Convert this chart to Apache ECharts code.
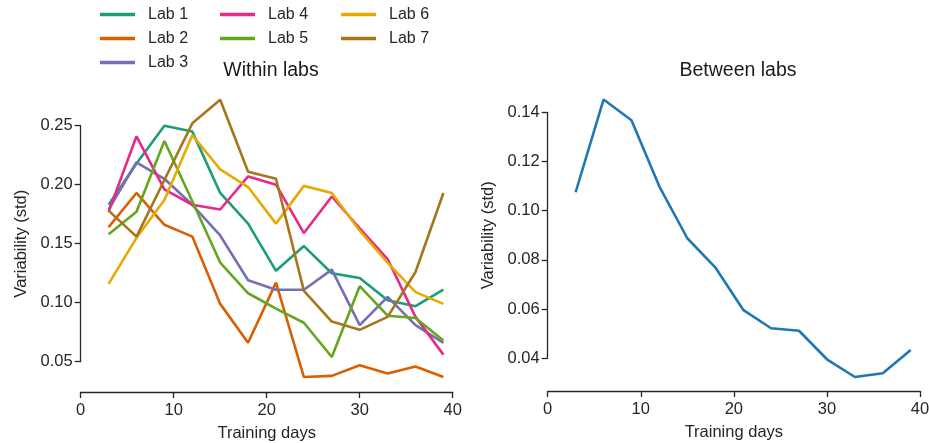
<!doctype html>
<html>
<head>
<meta charset="utf-8">
<script src="https://cdn.jsdelivr.net/npm/echarts@6/dist/echarts.min.js"></script>
<style>
  html, body { margin: 0; padding: 0; background: #fff; }
</style>
</head>
<body>
<div id="main" style="width: 929px; height: 443px;"></div>
<script type="text/javascript">
    // training days (x values)
    var days = [3, 6, 9, 12, 15, 18, 21, 24, 27, 30, 33, 36, 39];

    // within labs std per lab
    var lab1 = [0.183, 0.218, 0.250, 0.245, 0.193, 0.167, 0.127, 0.148, 0.125, 0.121, 0.102, 0.097, 0.111];
    var lab2 = [0.164, 0.193, 0.166, 0.156, 0.099, 0.066, 0.117, 0.037, 0.038, 0.047, 0.040, 0.046, 0.037];
    var lab3 = [0.179, 0.219, 0.205, 0.183, 0.157, 0.119, 0.111, 0.111, 0.128, 0.081, 0.105, 0.081, 0.066];
    var lab4 = [0.177, 0.241, 0.196, 0.183, 0.179, 0.207, 0.200, 0.159, 0.190, 0.163, 0.137, 0.088, 0.056];
    var lab5 = [0.158, 0.177, 0.237, 0.186, 0.134, 0.108, 0.095, 0.083, 0.054, 0.114, 0.089, 0.087, 0.068];
    var lab6 = [0.116, 0.155, 0.187, 0.242, 0.213, 0.198, 0.167, 0.199, 0.193, 0.161, 0.134, 0.109, 0.099];
    var lab7 = [0.178, 0.156, 0.204, 0.252, 0.272, 0.211, 0.205, 0.110, 0.084, 0.077, 0.088, 0.126, 0.193];

    // between labs std
    var between = [0.1075, 0.1452, 0.1368, 0.1098, 0.0888, 0.0770, 0.0597, 0.0522, 0.0512, 0.0396, 0.0324, 0.0339, 0.0434];

    var labNames = ['Lab 1', 'Lab 2', 'Lab 3', 'Lab 4', 'Lab 5', 'Lab 6', 'Lab 7'];
    var labData = [lab1, lab2, lab3, lab4, lab5, lab6, lab7];
    var labColors = ['#1b9e77', '#d95f02', '#7570b3', '#e7298a', '#66a61e', '#e6ab02', '#a6761d'];

    var yLeftTicks = { min: 0.05, max: 0.25, step: 0.05 };
    var yRightTicks = { min: 0.04, max: 0.14, step: 0.02 };

    var font = 'Liberation Sans, Arial, sans-serif';
    var axisColor = '#262626';

    function pairs(ys) {
        var out = [];
        for (var i = 0; i < days.length; i++) {
            out.push([days[i], ys[i]]);
        }
        return out;
    }

    function xAxisFor(idx, offset) {
        return {
            type: 'value', gridIndex: idx, min: 0, max: 40, interval: 10,
            offset: offset,
            name: 'Training days', nameLocation: 'middle', nameGap: 33,
            nameTextStyle: { fontFamily: font, fontSize: 16.5, color: axisColor },
            axisLine: { lineStyle: { color: axisColor, width: 1.3 } },
            axisTick: { length: 6, lineStyle: { color: axisColor, width: 1.3 } },
            axisLabel: { fontFamily: font, fontSize: 16.5, color: axisColor, margin: 10 },
            splitLine: { show: false }
        };
    }

    function yAxisFor(idx, t) {
        return {
            type: 'value', gridIndex: idx, min: t.min, max: t.max, interval: t.step,
            name: 'Variability (std)', nameLocation: 'middle', nameGap: 51,
            nameTextStyle: { fontFamily: font, fontSize: 16.5, color: axisColor },
            axisLine: { show: true, lineStyle: { color: axisColor, width: 1.3 } },
            axisTick: { show: true, length: 6, lineStyle: { color: axisColor, width: 1.3 } },
            axisLabel: {
                fontFamily: font, fontSize: 16.5, color: axisColor, margin: 8,
                formatter: function (v) { return v.toFixed(2); }
            },
            splitLine: { show: false }
        };
    }

    var series = [];
    for (var k = 0; k < labNames.length; k++) {
        series.push({
            name: labNames[k], type: 'line', xAxisIndex: 0, yAxisIndex: 0,
            data: pairs(labData[k]),
            symbol: 'none', clip: false,
            color: labColors[k],
            lineStyle: { width: 2.6, color: labColors[k] }
        });
    }
    series.push({
        name: 'Between', type: 'line', xAxisIndex: 1, yAxisIndex: 1,
        data: pairs(between),
        symbol: 'none', clip: false,
        color: '#1f77b4',
        lineStyle: { width: 2.6, color: '#1f77b4' }
    });

    function legendCol(left, names) {
        return {
            orient: 'vertical', left: left, top: 6.5, padding: 0,
            data: names, icon: 'rect', itemWidth: 35, itemHeight: 3.5, itemGap: 8,
            textStyle: { fontFamily: font, fontSize: 16, color: axisColor, padding: [0, 0, 0, 8] }
        };
    }

    var myChart = echarts.init(document.getElementById('main'), null, { renderer: 'canvas' });
    myChart.setOption({
        animation: false,
        backgroundColor: '#fff',
        title: [
            { text: 'Within labs', left: 266, top: 56, textAlign: 'center',
              textStyle: { fontFamily: font, fontSize: 19.5, fontWeight: 'normal', color: '#1a1a1a' } },
            { text: 'Between labs', left: 733, top: 56, textAlign: 'center',
              textStyle: { fontFamily: font, fontSize: 19.5, fontWeight: 'normal', color: '#1a1a1a' } }
        ],
        legend: [
            legendCol(100, ['Lab 1', 'Lab 2', 'Lab 3']),
            legendCol(220, ['Lab 4', 'Lab 5']),
            legendCol(341, ['Lab 6', 'Lab 7'])
        ],
        grid: [
            { left: 80.7, top: 125.7, width: 372, height: 236, outerBoundsMode: 'none', containLabel: false },
            { left: 547.7, top: 112.3, width: 372.3, height: 246, outerBoundsMode: 'none', containLabel: false }
        ],
        xAxis: [xAxisFor(0, 30.3), xAxisFor(1, 32.7)],
        yAxis: [yAxisFor(0, yLeftTicks), yAxisFor(1, yRightTicks)],
        series: series
    });
</script>
</body>
</html>
